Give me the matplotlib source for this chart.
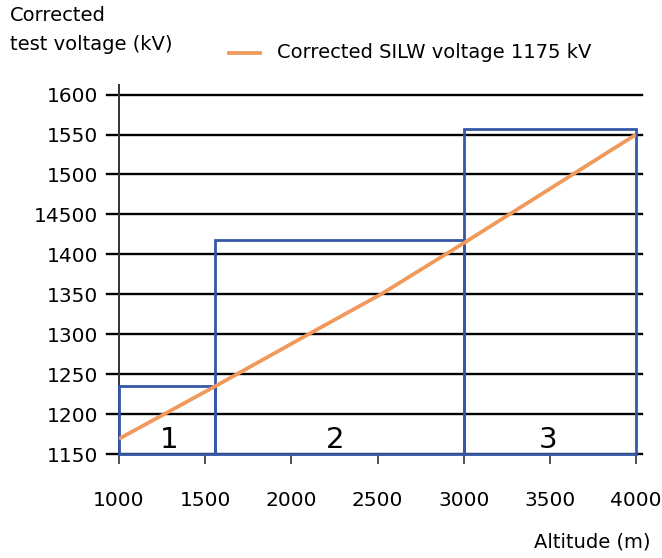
import matplotlib
matplotlib.use('Agg')
import matplotlib.pyplot as plt
from matplotlib.patches import Rectangle
from matplotlib.lines import Line2D

# Data
altitude = [1000, 1560, 2100, 2520, 3000, 4000]
silw_voltage = [1169, 1235, 1300, 1350, 1414, 1550]

# altitude zones: (start, end, top voltage, label)
zone_start = [1000, 1557, 3000]
zone_end = [1557, 3000, 4000]
zone_top = [1235, 1418, 1557]
zone_label = ['1', '2', '3']
zone_label_x = [1290, 2255, 3490]

y_ticks = [1150, 1200, 1250, 1300, 1350, 1400, 1450, 1500, 1550, 1600]
y_tick_labels = ['1150', '1200', '1250', '1300', '1350', '1400', '14500', '1500', '1550', '1600']
x_ticks = [1000, 1500, 2000, 2500, 3000, 3500, 4000]

blue = '#3557a8'
orange = '#f0995a'

fig = plt.figure(figsize=(6.62, 5.58), dpi=100)
ax = fig.add_axes([119/662, 1 - 454/558, (636 - 119)/662, (454 - 85)/558])

ax.set_xlim(1000, 4000)
ax.set_ylim(1150, 1612)

# horizontal grid lines, sticking out a little on both sides
for v in y_ticks:
    ax.axhline(v, xmin=-0.023, xmax=1.012, color='black', lw=1.7, clip_on=False, zorder=1)

# zone boxes
for s, e, t in zip(zone_start, zone_end, zone_top):
    ax.add_patch(Rectangle((s, 1150), e - s, t - 1150, fill=False,
                           edgecolor=blue, lw=2.0, zorder=3, clip_on=False))

for x, lab in zip(zone_label_x, zone_label):
    ax.text(x, 1157, lab, fontsize=21, ha='center', va='baseline', zorder=4)

ax.plot(altitude, silw_voltage, color=orange, lw=2.7, zorder=5,
        solid_capstyle='butt', solid_joinstyle='round')

for sp in ['top', 'right', 'bottom']:
    ax.spines[sp].set_visible(False)
ax.spines['left'].set_color('#333333')
ax.spines['left'].set_linewidth(1.4)

ax.set_yticks(y_ticks)
ax.set_yticklabels(y_tick_labels, fontsize=14.5)
ax.tick_params(axis='y', length=0, pad=15)
ax.set_xticks(x_ticks)
ax.set_xticklabels([str(x) for x in x_ticks], fontsize=14.5)
ax.tick_params(axis='x', length=7, width=1.2, color='#333333', pad=20)

fig.text(10/662, 1 - 30/558, 'Corrected\ntest voltage (kV)', fontsize=14,
         ha='left', va='center', linespacing=1.65)
fig.text(650/662, 1 - 542/558, 'Altitude (m)', fontsize=14, ha='right', va='center')

fig.add_artist(Line2D([229/662, 260/662], [1 - 53/558, 1 - 53/558],
                      color=orange, lw=2.7, transform=fig.transFigure))
fig.text(277/662, 1 - 53/558, 'Corrected SILW voltage 1175 kV', fontsize=14,
         ha='left', va='center')

fig.savefig('out.png', dpi=100)
